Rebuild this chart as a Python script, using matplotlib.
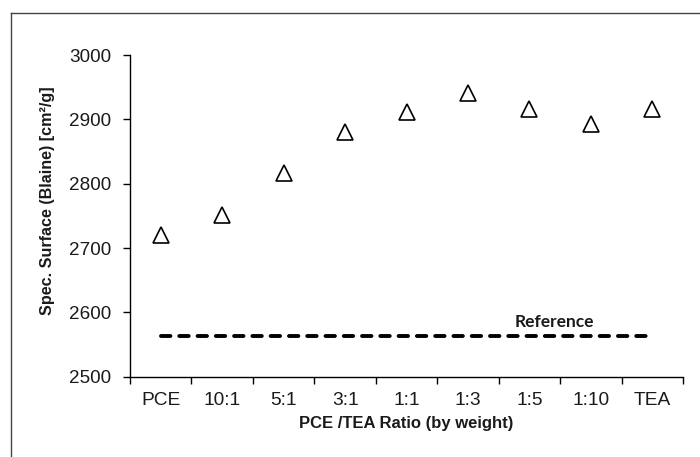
import matplotlib
matplotlib.use("Agg")
import matplotlib.pyplot as plt
from matplotlib.lines import Line2D
import numpy as np

categories = ["PCE", "10:1", "5:1", "3:1", "1:1", "1:3", "1:5", "1:10", "TEA"]
surface = [2721, 2752, 2816, 2880, 2911, 2941, 2916, 2892, 2916]
reference_value = 2563
reference_label = "Reference"
y_ticks = [2500, 2600, 2700, 2800, 2900, 3000]

fig = plt.figure(figsize=(7.0, 4.57), dpi=100)
ax = fig.add_axes([130/700, 1-376.7/457, (683-130)/700, (376.7-55)/457])

x = np.arange(len(categories))
ax.plot(x, surface, linestyle="none", marker="^", markersize=11,
        markerfacecolor="white", markeredgecolor="black", markeredgewidth=1.2, zorder=3)
ax.plot([x[0], x[-1]], [reference_value, reference_value], color="black",
        linewidth=2.8, dashes=(2.42, 2.28), dash_capstyle="round", zorder=2)
ax.text(x[6] + 0.4, reference_value + 9, reference_label, ha="center", va="bottom",
        fontsize=12.5, fontweight="bold", family=["Lato", "DejaVu Sans"], color="#1a1a1a")

ax.set_xlim(-0.5, len(categories) - 0.5)
ax.set_ylim(2500, 3000)
ax.set_yticks(y_ticks)
ax.set_yticklabels([str(v) for v in y_ticks], family=["Liberation Sans", "DejaVu Sans"], fontsize=13.6)
ax.set_xticks(x)
ax.set_xticklabels(categories, family=["Liberation Sans", "DejaVu Sans"], fontsize=13.8)
ax.set_xticks(np.arange(len(categories) + 1) - 0.5, minor=True)
ax.tick_params(axis="x", which="major", length=0, pad=11, colors="#1a1a1a")
ax.tick_params(axis="x", which="minor", length=5, width=1.0, direction="out", color="black")
ax.tick_params(axis="y", which="major", length=5, width=1.0, direction="out", pad=8.5, labelcolor="#1a1a1a")

for s in ["top", "right"]:
    ax.spines[s].set_visible(False)
for s in ["left", "bottom"]:
    ax.spines[s].set_linewidth(1.0)
    ax.spines[s].set_color("black")

ax.set_xlabel("PCE /TEA Ratio (by weight)", family=["Liberation Sans Narrow", "Liberation Sans"],
              fontweight="bold", fontsize=12, labelpad=5, color="#1a1a1a")
ax.set_ylabel("Spec. Surface (Blaine) [cm\u00b2/g]", family=["Liberation Sans Narrow", "Liberation Sans"],
              fontweight="bold", fontsize=11.6, color="#1a1a1a")
ax.yaxis.set_label_coords(-0.1356, 0.546)

# outer frame (top and left edges)
fig.add_artist(Line2D([11/700, 1.0], [1-13/457, 1-13/457], transform=fig.transFigure,
                      color="#444444", linewidth=1.0))
fig.add_artist(Line2D([11/700, 11/700], [0.0, 1-13/457], transform=fig.transFigure,
                      color="#444444", linewidth=1.0))

fig.savefig("out.png", dpi=100)
